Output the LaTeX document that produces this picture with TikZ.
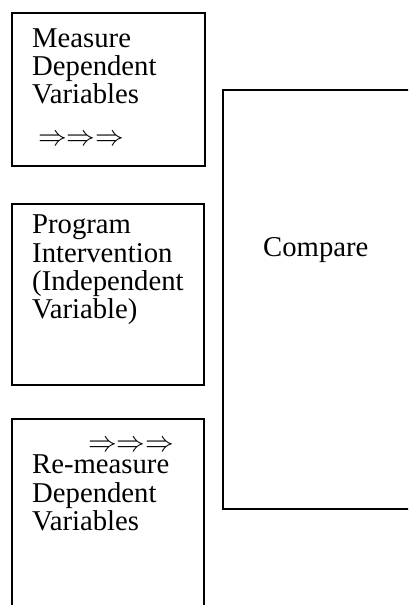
\documentclass[tikz,border=0pt]{standalone}
\usepackage{fontspec}
\setmainfont{Liberation Serif}
\newcommand{\triplearrow}{\scalebox{1.154}{$\Rightarrow\Rightarrow\Rightarrow$}}
\begin{document}
\begin{tikzpicture}[x=1pt,y=-1pt,
  boxframe/.style={draw=black,line width=1.6pt,inner sep=0pt,anchor=north west},
  txt/.style={inner sep=0pt,anchor=base west,font=\fontsize{28.7}{28.7}\selectfont},
  arr/.style={inner sep=0pt,anchor=base west,text depth=0pt,font=\fontsize{24.88}{28}\selectfont}]
\clip (0,0) rectangle (408,605);
\fill[white] (0,0) rectangle (408,605);
% boxes
\node[boxframe,minimum width=193pt,minimum height=153pt] (measure) at (11,12) {};
\node[boxframe,minimum width=192pt,minimum height=181pt] (program) at (11,203) {};
\node[boxframe,minimum width=192pt,minimum height=210pt] (remeasure) at (11,418) {};
\node[boxframe,minimum width=210pt,minimum height=419pt] (compare) at (222,89) {};
% box 1 text
\node[txt] (m1) at (32,47) {Measure};
\node[txt] (m2) at (32,75) {Dependent};
\node[txt] (m3) at (32,103) {Variables};
\node[arr] (ma) at (38,145) {\triplearrow};
% box 2 text
\node[txt] (p1) at (32,233) {Program};
\node[txt] (p2) at (32,262) {Intervention};
\node[txt] (p3) at (32,290) {(Independent};
\node[txt] (p4) at (32,318) {Variable)};
% box 3 text
\node[arr] (ra) at (88,451) {\triplearrow};
\node[txt] (r1) at (32,473) {Re-measure};
\node[txt] (r2) at (32,502) {Dependent};
\node[txt] (r3) at (32,530) {Variables};
% compare
\node[txt] (c1) at (263,256) {Compare};
\end{tikzpicture}
\end{document}
